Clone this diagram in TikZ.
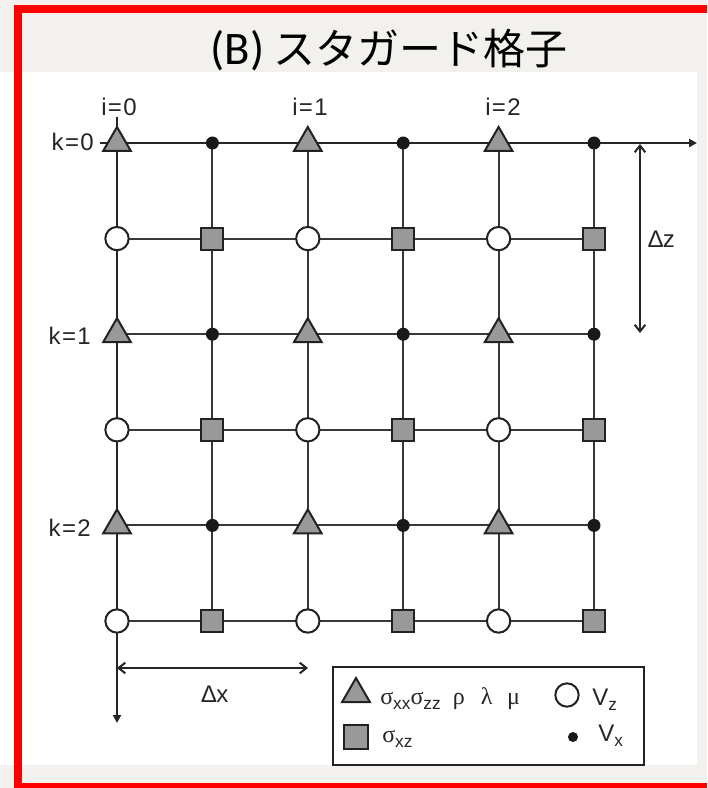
\documentclass[tikz,border=0pt]{standalone}
\usepackage{fontspec}
\setmainfont{Liberation Sans}
\newfontfamily\cjkfont{Noto Sans CJK JP}
\newfontfamily\calfont{Carlito}
\newfontfamily\grkfont{Liberation Serif}
\usetikzlibrary{arrows.meta,shapes.geometric}
\pgfdeclarelayer{bg}
\pgfdeclarelayer{edges}
\pgfsetlayers{bg,edges,main}
\definecolor{pagegrey}{HTML}{F2F1ED}
\definecolor{symfill}{HTML}{999999}
\definecolor{lineclr}{HTML}{383838}
\definecolor{outl}{HTML}{222222}
\definecolor{redframe}{HTML}{FF0000}
\newcommand\lsub[1]{\raisebox{-0.45ex}{\fontsize{13pt}{14pt}\selectfont #1}}
\newcommand\grk[1]{{\grkfont #1}}
\begin{document}
\begin{tikzpicture}[x=0.75pt,y=-0.75pt,
  tri/.style={regular polygon,regular polygon sides=3,minimum size=24pt,inner sep=0pt,
    draw=outl,fill=symfill,line width=1.5pt},
  circ/.style={circle,minimum size=17.5pt,inner sep=0pt,draw=outl,fill=white,line width=1.5pt},
  sq/.style={rectangle,minimum size=16.5pt,inner sep=0pt,draw=outl,fill=symfill,line width=1.5pt},
  bdot/.style={circle,minimum size=9.75pt,inner sep=0pt,fill=black!90},
  gridln/.style={draw=lineclr,line width=1.4pt},
  axisln/.style={draw=black!85,line width=1.7pt},
  lbl/.style={font=\fontsize{18pt}{20pt}\selectfont,inner sep=0pt,text=black!85},
  legtxt/.style={font=\fontsize{18pt}{20pt}\selectfont,inner sep=0pt,anchor=base west,text=black!85},
]
\useasboundingbox (0,0) rectangle (707,788);
\begin{pgfonlayer}{bg}
  \fill[pagegrey] (0,0) rectangle (707,788);
  \fill[white] (0,72) rectangle (697,765);
  \fill[redframe] (14,5) rectangle (707,13);
  \fill[redframe] (14,5) rectangle (22,788);
  \fill[redframe] (14,783) rectangle (707,788);
\end{pgfonlayer}

% title
\node[anchor=base,inner sep=0pt,font=\fontsize{31.5pt}{34pt}\selectfont] (title) at (389,65)
  {{\calfont\fontsize{35pt}{38pt}\selectfont (B)\kern7pt}{\cjkfont スタガード格子}};

% grid symbols
\foreach \j in {0,2,4}{\foreach \r in {0,2,4}{
  \node[tri] (n\j\r) at ({117+95.4*\j},{143+95.6*\r}) {};}}
\foreach \j in {0,2,4}{\foreach \r in {1,3,5}{
  \node[circ] (n\j\r) at ({117+95.4*\j},{143+95.6*\r}) {};}}
\foreach \j in {1,3,5}{\foreach \r in {0,2,4}{
  \node[bdot] (n\j\r) at ({117+95.4*\j},{143+95.6*\r}) {};}}
\foreach \j in {1,3,5}{\foreach \r in {1,3,5}{
  \node[sq] (n\j\r) at ({117+95.4*\j},{143+95.6*\r}) {};}}

% axis end points
\coordinate (xaxs) at (100,143);
\coordinate (xaxe) at (697,143);
\coordinate (zaxs) at (117,117);
\coordinate (zaxe) at (117,723);
\coordinate (dzt) at (640,144);
\coordinate (dzb) at (640,333);
\coordinate (dxl) at (117,668);
\coordinate (dxr) at (308,668);

\begin{pgfonlayer}{edges}
  \foreach \r in {1,...,5}{\draw[gridln] (n0\r.center) -- (n5\r.center);}
  \foreach \j in {1,...,5}{\draw[gridln] (n\j0.center) -- (n\j5.center);}
  \draw[axisln,-{Triangle[length=6pt,width=6pt]}] (xaxs) -- (xaxe);
  \draw[axisln,-{Triangle[length=6pt,width=6pt]}] (zaxs) -- (zaxe);
  \draw[axisln,line width=1.5pt,{Straight Barb[length=5pt,width=8pt]}-{Straight Barb[length=5pt,width=8pt]}] (dzt) -- (dzb);
  \draw[axisln,line width=1.5pt,{Straight Barb[length=5pt,width=8pt]}-{Straight Barb[length=5pt,width=8pt]}] (dxl) -- (dxr);
\end{pgfonlayer}

% labels
\node[lbl,anchor=base] (i0) at (119,116) {i\kern1pt=\kern1pt0};
\node[lbl,anchor=base] (i1) at (310,116) {i\kern1pt=\kern1pt1};
\node[lbl,anchor=base] (i2) at (503,116) {i\kern1pt=\kern1pt2};
\node[lbl,anchor=base east] (k0) at (94,151) {k\kern1pt=\kern1pt0};
\node[lbl,anchor=base east] (k1) at (91,344) {k\kern1pt=\kern1pt1};
\node[lbl,anchor=base east] (k2) at (91,536) {k\kern1pt=\kern1pt2};
\node[lbl,anchor=base west] (dz) at (648,247) {∆z};
\node[lbl,anchor=base] (dx) at (215,702) {∆x};

% legend
\node[draw=outl,line width=1.5pt,minimum width=233pt,minimum height=73.5pt,inner sep=0pt,anchor=north west] (legend) at (332,666) {};
\node[tri] (ltri) at (356,694) {};
\node[legtxt] (ltxt) at (380,704) {\grk{σ}\lsub{xx}\grk{σ}\lsub{zz}\hspace{9pt}\grk{ρ}\hspace{12pt}\grk{λ}\hspace{11pt}\grk{μ}};
\node[circ] (lcirc) at (567,695) {};
\node[legtxt] (lvz) at (592,705) {V\lsub{z}};
\node[sq,minimum size=18pt] (lsq) at (356,737) {};
\node[legtxt] (lsxz) at (382,742) {\grk{σ}\lsub{xz}};
\node[bdot,minimum size=7.5pt] (ldot) at (573,737) {};
\node[legtxt] (lvx) at (598,741) {V\lsub{x}};
\end{tikzpicture}
\end{document}
